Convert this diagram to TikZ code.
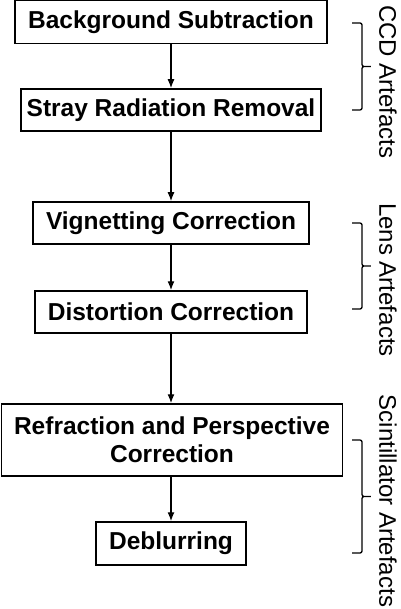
\documentclass[tikz,border=0pt]{standalone}
\usepackage{fontspec}
\setmainfont{Liberation Sans}
\usetikzlibrary{arrows.meta,calc}

\tikzset{
  stepbox/.style={draw, line width=1.5pt, minimum height=42pt, align=center,
    inner sep=0pt, font=\fontsize{24.5}{28}\selectfont\bfseries},
  flow/.style={-{Latex[length=9pt,width=7pt]}, line width=1.3pt},
  grp/.style={line width=1.3pt, rounded corners=2pt},
  grplabel/.style={rotate=-90, inner sep=0pt, font=\fontsize{24}{28}\selectfont}
}

\begin{document}
\begin{tikzpicture}[x=1pt, y=-1pt]
	\useasboundingbox (0,0) rectangle (400,609);

	\node[stepbox, minimum width=312pt, minimum height=43pt] (S1) at (171,22) {Background Subtraction};
	\node[stepbox, minimum width=300pt] (S2) at (171,110) {Stray Radiation Removal};
	\node[stepbox, minimum width=276pt] (S3) at (171,223) {Vignetting Correction};
	\node[stepbox, minimum width=272pt] (S4) at (171,312) {Distortion Correction};
	\node[stepbox, minimum width=341pt, minimum height=72pt] (S5) at (172,440) {Refraction and Perspective\\Correction};
	\node[stepbox, minimum width=150pt, minimum height=43pt] (S6) at (171,543.5) {Deblurring};

	\draw[flow] (S1)--(S2);
	\draw[flow] (S2)--(S3);
	\draw[flow] (S3)--(S4);
	\draw[flow] (S4)--(S5.north -| S4);
	\draw[flow] (S5.south -| S6)--(S6);

	\coordinate (CA) at (352,23);
	\coordinate (CB) at (352,110);
	\coordinate (LA) at (352,223);
	\coordinate (LB) at (352,309);
	\coordinate (SA) at (352,440);
	\coordinate (SB) at (352,553);

	% square braces with a nub in the middle
	\draw[grp] (CA) -- ++(10,0) |- ($(CA)!0.5!(CB)+(20,0)$) -- ++(-10,0) |- (CB);
	\draw[grp] (LA) -- ++(10,0) |- ($(LA)!0.5!(LB)+(20,0)$) -- ++(-10,0) |- (LB);
	\draw[grp] (SA) -- ++(10,0) |- ($(SA)!0.5!(SB)+(20,0)$) -- ++(-10,0) |- (SB);

	\node[grplabel] (ccd) at (388,82) {CCD Artefacts};
	\node[grplabel] (lens) at (388,280) {Lens Artefacts};
	\node[grplabel] (scint) at (388,501) {Scintillator Artefacts};
\end{tikzpicture}
\end{document}
